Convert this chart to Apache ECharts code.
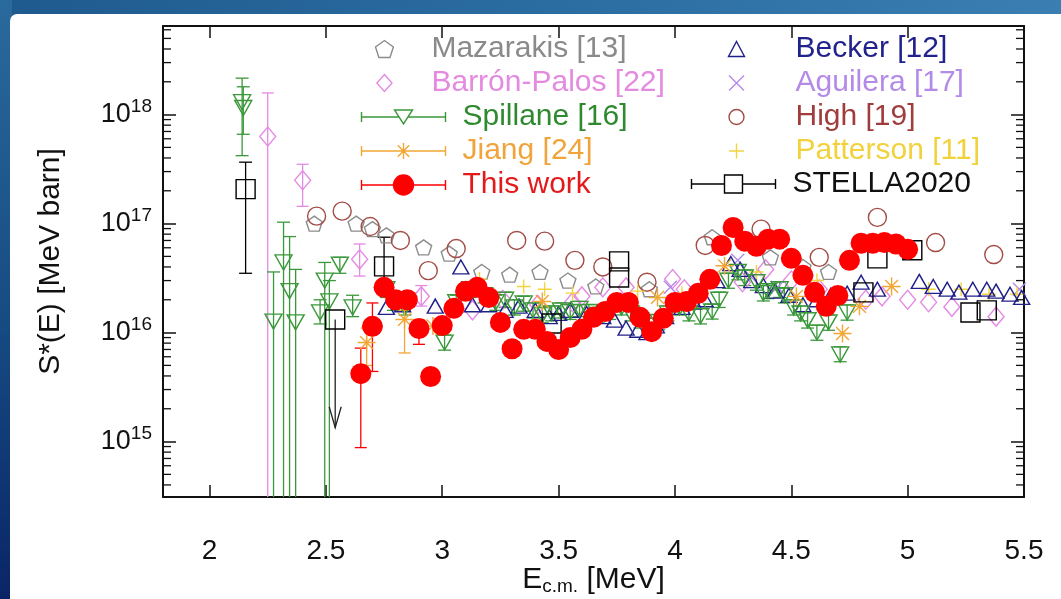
<!DOCTYPE html>
<html>
<head>
<meta charset="utf-8">
<script src="https://cdn.jsdelivr.net/npm/echarts@6/dist/echarts.min.js"></script>
<style>
html,body{margin:0;padding:0;width:1061px;height:599px;overflow:hidden;background:#fff}
#bgTop{position:absolute;left:0;top:0;width:1061px;height:16px;background:linear-gradient(90deg,#1f5a8e,#2b6ca0 50%,#3a7eb2)}
#bgLeft{position:absolute;left:0;top:0;width:12px;height:599px;background:linear-gradient(180deg,#2a6a9c,#164a82 55%,#0a2566)}
#white{position:absolute;left:10px;top:14px;right:0;bottom:0;background:#fff;border-top-left-radius:7px}
#chart{position:absolute;left:0;top:0;width:1061px;height:599px}
</style>
</head>
<body>
<div id="bgTop"></div><div id="bgLeft"></div><div id="white"></div>
<div id="chart"></div>
<script>
// ---------------- DATA ----------------
// This work (red filled circles)
const thisX  = [2.65,2.70,2.75,2.80,2.85,2.90,2.95,3.00,3.05,3.10,3.15,3.20,3.25,3.30,3.35,3.40,3.45,3.50,3.55,3.60,3.65,3.70,3.75,3.80,3.85,3.90,3.95,4.00,4.05,4.10,4.15,4.20,4.25,4.30,4.35,4.40,4.45,4.50,4.55,4.60,4.65,4.70,4.75,4.80,4.85,4.90,4.95,5.00];
const thisY  = [4.2e15,1.14e16,2.6e16,2.0e16,2.0e16,1.09e16,3.95e15,1.16e16,1.67e16,2.39e16,2.6e16,2.1e16,1.24e16,7.1e15,1.07e16,1.07e16,8.3e15,7.0e15,9.0e15,1.07e16,1.38e16,1.56e16,1.89e16,1.89e16,1.38e16,1.02e16,1.35e16,1.89e16,1.93e16,2.29e16,3.08e16,6.3e16,9.2e16,6.9e16,6.2e16,7.2e16,7.2e16,4.8e16,3.35e16,2.34e16,1.74e16,2.19e16,4.6e16,6.6e16,6.6e16,6.7e16,6.5e16,5.8e16];
const thisLo = [8.8e14,4.4e15,2.3e16,1.8e16,1.8e16,7.8e15,3.4e15,1.05e16,1.5e16,2.15e16,2.35e16,1.9e16,1.12e16,6.4e15,9.6e15,9.6e15,7.5e15,6.3e15,8.1e15,9.6e15,1.24e16,1.4e16,1.7e16,1.7e16,1.24e16,9.2e15,1.22e16,1.7e16,1.74e16,2.06e16,2.77e16,5.7e16,8.3e16,6.2e16,5.6e16,6.5e16,6.5e16,4.3e16,3.0e16,2.1e16,1.57e16,1.97e16,4.1e16,5.9e16,5.9e16,6.0e16,5.8e16,5.2e16];
const thisHi = [7.2e15,1.87e16,2.9e16,2.2e16,2.2e16,1.3e16,4.6e15,1.28e16,1.85e16,2.65e16,2.85e16,2.3e16,1.37e16,7.8e15,1.18e16,1.18e16,9.1e15,7.7e15,9.9e15,1.18e16,1.52e16,1.72e16,2.08e16,2.08e16,1.52e16,1.12e16,1.49e16,2.08e16,2.12e16,2.52e16,3.39e16,6.9e16,1.01e17,7.6e16,6.8e16,7.9e16,7.9e16,5.3e16,3.7e16,2.57e16,1.91e16,2.41e16,5.1e16,7.3e16,7.3e16,7.4e16,7.2e16,6.4e16];

// Spillane [16] (green down triangles)
const spX  = [2.140,2.145,2.275,2.318,2.344,2.370,2.495,2.475,2.515,2.560,2.615,2.76,2.79,2.84,3.01,3.06,3.12,3.18,3.23,3.27,3.31,3.35,3.39,3.43,3.47,3.51,3.55,3.59,3.63,3.67,3.72,3.77,3.81,3.85,3.89,3.93,3.97,4.02,4.06,4.11,4.16,4.19,4.23,4.27,4.30,4.35,4.38,4.40,4.45,4.47,4.51,4.54,4.57,4.61,4.66,4.71,4.74];
const spY  = [1.30e18,1.15e18,1.26e16,4.4e16,2.4e16,1.24e16,3.0e16,1.53e16,1.93e16,4.2e16,1.7e16,2.5e16,1.9e16,1.7e16,8.1e15,1.9e16,2.5e16,2.2e16,1.9e16,2.0e16,1.7e16,1.85e16,1.6e16,1.45e16,1.5e16,1.6e16,1.55e16,1.65e16,1.55e16,1.45e16,1.55e16,1.7e16,1.5e16,1.3e16,1.15e16,1.25e16,1.5e16,1.7e16,1.5e16,1.42e16,1.56e16,2.0e16,3.0e16,3.6e16,3.2e16,2.9e16,2.3e16,2.4e16,2.5e16,2.2e16,1.7e16,1.5e16,1.3e16,1.0e16,1.24e16,6.3e15,1.53e16];
const spLo = [4.2e17,6.6e17,1e13,1e13,1e13,1e13,1e13,1.2e16,1e13,3.5e16,1.4e16,2.1e16,1.6e16,1.45e16,6.9e15,1.6e16,2.1e16,1.87e16,1.6e16,1.7e16,1.45e16,1.57e16,1.36e16,1.23e16,1.28e16,1.36e16,1.32e16,1.4e16,1.32e16,1.23e16,1.32e16,1.45e16,1.28e16,1.1e16,9.8e15,1.06e16,1.28e16,1.45e16,1.28e16,1.2e16,1.33e16,1.7e16,2.55e16,3.05e16,2.7e16,2.45e16,1.95e16,2.05e16,2.1e16,1.87e16,1.45e16,1.28e16,1.1e16,8.5e15,1.05e16,5.4e15,1.3e16];
const spHi = [2.16e18,1.80e18,3.6e16,1.03e17,7.6e16,3.8e16,4.4e16,2.0e16,3.0e16,4.9e16,2.2e16,2.9e16,2.2e16,2.0e16,9.5e15,2.2e16,2.9e16,2.55e16,2.2e16,2.35e16,2.0e16,2.15e16,1.87e16,1.7e16,1.75e16,1.87e16,1.8e16,1.93e16,1.8e16,1.7e16,1.8e16,2.0e16,1.75e16,1.52e16,1.35e16,1.46e16,1.75e16,2.0e16,1.75e16,1.66e16,1.82e16,2.35e16,3.5e16,4.2e16,3.75e16,3.4e16,2.7e16,2.8e16,2.9e16,2.55e16,2.0e16,1.75e16,1.52e16,1.17e16,1.45e16,7.4e15,1.79e16];

// Becker [12] (navy triangles)
const beX = [2.76,2.83,2.97,3.08,3.13,3.20,3.27,3.33,3.40,3.46,3.50,3.55,3.62,3.69,3.74,3.79,3.84,3.88,3.92,3.96,4.03,4.08,4.13,4.18,4.24,4.28,4.33,4.38,4.43,4.49,4.55,4.61,4.67,4.74,4.80,4.87,5.05,5.11,5.17,5.22,5.28,5.34,5.38,5.44,5.49];
const beY = [1.7e16,1.8e16,1.75e16,4.0e16,1.8e16,1.8e16,1.6e16,1.75e16,1.6e16,1.4e16,1.5e16,1.6e16,1.5e16,1.4e16,1.3e16,1.1e16,1.05e16,1.0e16,1.15e16,1.4e16,1.7e16,1.9e16,2.0e16,3.0e16,4.3e16,3.8e16,3.0e16,2.7e16,2.4e16,2.2e16,1.8e16,2.0e16,2.2e16,2.3e16,2.9e16,2.5e16,2.95e16,2.65e16,2.5e16,2.35e16,2.5e16,2.5e16,2.4e16,2.25e16,2.1e16];

// Mazarakis [13] (grey pentagons)
const mzX = [2.45,2.63,2.70,2.76,2.92,3.03,3.17,3.29,3.42,3.54,3.66,3.89,4.16,4.41,4.55,4.66];
const mzY = [1.0e17,1.0e17,8.9e16,7.8e16,6.05e16,5.3e16,3.6e16,3.4e16,3.6e16,3.0e16,2.65e16,2.5e16,7.5e16,4.9e16,4.0e16,3.6e16];

// High [19] (brown open circles)
const hiX = [2.46,2.57,2.69,2.82,2.94,3.06,3.32,3.44,3.57,3.69,3.88,4.13,4.37,4.62,4.87,5.12,5.37];
const hiY = [1.17e17,1.3e17,9.4e16,7.0e16,3.7e16,5.9e16,7.0e16,6.9e16,4.6e16,4.0e16,2.9e16,6.3e16,8.9e16,4.9e16,1.14e17,6.7e16,5.2e16];

// Barrón-Palos [22] (violet diamonds)
const bpX  = [2.25,2.40,2.645,2.91,3.13,3.26,3.41,3.56,3.60,3.69,3.79,3.99,4.04,4.29,4.39,4.50,4.62,4.82,4.89,5.00,5.09,5.19,5.38];
const bpY  = [6.3e17,2.5e17,4.7e16,2.15e16,1.6e16,2.0e16,1.8e16,1.9e16,2.15e16,2.6e16,2.6e16,3.1e16,2.5e16,2.9e16,3.8e16,3.0e16,2.5e16,2.0e16,2.15e16,2.0e16,1.9e16,1.72e16,1.4e16];
const bpLo = [1e13,1.44e17,3.3e16,1.75e16];
const bpHi = [1.58e18,3.5e17,6.5e16,2.7e16];

// Aguilera [17] (lavender crosses)
const agX = [3.98,4.27,4.33,4.44,5.48];
const agY = [2.6e16,4.6e16,3.2e16,2.6e16,2.5e16];

// Patterson [11] (yellow plus)
const ptX = [3.16,3.35,3.44,3.56,3.84,4.03,4.35,4.61,5.09,5.23,5.35,5.47];
const ptY = [3.1e16,2.65e16,2.5e16,2.3e16,2.4e16,2.3e16,3.6e16,3.0e16,2.5e16,2.5e16,2.25e16,2.25e16];

// Jiang [24] (orange asterisks)
const jiX  = [2.675,2.838,2.96,3.43,3.925,4.213,4.522,4.72,4.793,4.931];
const jiY  = [8.1e15,1.32e16,1.15e16,1.93e16,2.1e16,4.1e16,2.15e16,9.8e15,1.74e16,2.65e16];
const jiLo = [5.0e15,6.5e15];
const jiHi = [1.1e16,1.6e16];

// STELLA2020 (black open squares)
const stX  = [2.155,2.75,2.54,3.47,3.76,3.76,4.81,4.87,5.02,5.27,5.34];
const stY  = [2.07e17,4.05e16,1.32e16,1.21e16,4.5e16,3.2e16,2.34e16,4.8e16,5.7e16,1.53e16,1.6e16];
const stLo = [3.5e16,3.0e16];
const stHi = [3.66e17,7.5e16];
// STELLA2020 upper limit (arrow)
const stLimX = [2.54], stLimFrom = [1.32e16], stLimTo = [1.34e15];

// axis
const xMin = 1.8, xMax = 5.5, yMin = 3.1e14, yMax = 6.5e18;
const minorMantissas = [2,3,4,5,6,7,8,9];
const decades = [14,15,16,17,18];

// ---------------- STYLE ----------------
const FONT = "'Liberation Sans', Arial, Helvetica, sans-serif";
const C = {
  maz:'#8c8c8c', bp:'#e48ae4', sp:'#3a983a', ji:'#f2a634', tw:'#ff0000',
  be:'#202088', ag:'#b48ae8', hi:'#a24c46', pt:'#f4d43c', st:'#000000'
};
const CT = {
  maz:'#8a8a8a', bp:'#e48ae0', sp:'#2f8a2f', ji:'#f0a43a', tw:'#e41a1a',
  be:'#22228c', ag:'#b48ae8', hi:'#a03c3c', pt:'#f2d23c', st:'#111111'
};
const PENT = 'path://M10,0L19.51,6.91L15.88,18.09L4.12,18.09L0.49,6.91Z';
const XMARK = 'path://M0,0L14,14M14,0L0,14';
const PLUS = 'path://M7,0L7,14M0,7L14,7';
const STAR = 'path://M0,8L16,8M8,0L8,16M2.3,2.3L13.7,13.7M2.3,13.7L13.7,2.3';

function pts(xs, ys){ return xs.map((x,i)=>[x, ys[i]]); }
function bars(xs, lo, hi){ const d=[]; xs.forEach((x,i)=>{ if(lo[i]!=null && hi[i]!=null) d.push([x, lo[i], hi[i]]); }); return d; }

function scat(name, xs, ys, symbol, size, color, filled, rotate){
  return { type:'scatter', name, data: pts(xs, ys), symbol, symbolSize:size, symbolRotate: rotate||0,
    z:2, silent:true, clip:true, emphasis:{disabled:true},
    itemStyle: filled ? {color, borderWidth:0, opacity:1} : {color:'none', borderColor:color, borderWidth:1.4, opacity:1} };
}
function ebar(name, data, color, cap){
  return { type:'custom', name, data, z:2, clip:true, silent:true,
    renderItem(params, api){
      const x = api.value(0);
      const a = api.coord([x, api.value(1)]), b = api.coord([x, api.value(2)]);
      const h = cap/2, style = {stroke:color, lineWidth:1.3, fill:null};
      return {type:'group', children:[
        {type:'line', shape:{x1:a[0],y1:a[1],x2:b[0],y2:b[1]}, style},
        {type:'line', shape:{x1:a[0]-h,y1:a[1],x2:a[0]+h,y2:a[1]}, style},
        {type:'line', shape:{x1:b[0]-h,y1:b[1],x2:b[0]+h,y2:b[1]}, style}
      ]};
    }};
}

const minorVals = [];
decades.forEach(e => minorMantissas.forEach(m => { const v = m*Math.pow(10,e); if (v>yMin && v<yMax) minorVals.push([xMin, v]); }));

const series = [
  ebar('Barrón-Palos err', bars(bpX, bpLo, bpHi), C.bp, 12),
  scat('Barrón-Palos [22]', bpX, bpY, 'diamond', [16,19], C.bp, false),
  scat('Mazarakis [13]', mzX, mzY, PENT, [16,15], C.maz, false),
  scat('High [19]', hiX, hiY, 'circle', 18, C.hi, false),
  scat('Aguilera [17]', agX, agY, XMARK, 13, C.ag, false),
  scat('Patterson [11]', ptX, ptY, PLUS, 14, C.pt, false),
  scat('Becker [12]', beX, beY, 'triangle', [16,14], C.be, false),
  ebar('Spillane err', bars(spX, spLo, spHi), C.sp, 13),
  scat('Spillane [16]', spX, spY, 'triangle', [17,15], C.sp, false, 180),
  ebar('Jiang err', bars(jiX, jiLo, jiHi), C.ji, 12),
  scat('Jiang [24]', jiX, jiY, STAR, 18, C.ji, false),
  ebar('STELLA err', bars(stX, stLo, stHi), C.st, 13),
  { type:'custom', name:'STELLA limit', z:2, silent:true, clip:true,
    data: stLimX.map((x,i)=>[x, stLimFrom[i], stLimTo[i]]),
    renderItem(params, api){
      const a = api.coord([api.value(0), api.value(1)]), b = api.coord([api.value(0), api.value(2)]);
      const style = {stroke:'#222', lineWidth:1.3, fill:null};
      return {type:'group', children:[
        {type:'line', shape:{x1:a[0],y1:a[1],x2:b[0],y2:b[1]}, style},
        {type:'polyline', shape:{points:[[b[0]-6,b[1]-21],[b[0],b[1]],[b[0]+6,b[1]-21]]}, style}
      ]};
    }},
  scat('STELLA2020', stX, stY, 'rect', 19, C.st, false),
  ebar('This work err', bars(thisX, thisLo, thisHi), C.tw, 12),
  scat('This work', thisX, thisY, 'circle', 21, C.tw, true),
  { type:'custom', name:'minor ticks', z:3, silent:true, clip:false, data:minorVals,
    renderItem(params, api){
      const v = api.value(1);
      const l = api.coord([xMin, v]), r = api.coord([xMax, v]);
      const style = {stroke:'#111', lineWidth:1.3, fill:null};
      return {type:'group', children:[
        {type:'line', shape:{x1:l[0],y1:l[1],x2:l[0]+8,y2:l[1]}, style},
        {type:'line', shape:{x1:r[0]-8,y1:r[1],x2:r[0],y2:r[1]}, style}
      ]};
    }}
];

const legText = {fontFamily:FONT, fontSize:30, lineHeight:34};
function li(name, icon, key, filled){
  return {name, icon,
    itemStyle: filled ? {color:C[key], borderColor:C[key], borderWidth:1.4} : {color:'none', borderColor:C[key], borderWidth:1.4},
    textStyle:{color:CT[key]}};
}
const legBase = {orient:'vertical', padding:0, itemGap:0, selectedMode:false, z:5, itemWidth:84};

const option = {
  animation:false,
  grid:{left:163, right:37, top:26, bottom:102, containLabel:false, outerBoundsMode:'none'},
  xAxis:[
    {type:'value', min:xMin, max:xMax, splitNumber:8, position:'bottom',
     axisLine:{onZero:false, lineStyle:{color:'#111', width:2}},
     axisTick:{inside:true, length:12, lineStyle:{color:'#111', width:1.5}},
     axisLabel:{showMinLabel:false, margin:40, fontSize:28, fontFamily:FONT, color:'#111'},
     splitLine:{show:false},
     name:'{a|E}{b|c.m.}{a| [MeV]}', nameLocation:'middle', nameGap:67, nameMoveOverlap:false,
     nameTextStyle:{rich:{a:{fontSize:30, fontFamily:FONT, color:'#111', lineHeight:32},
                          b:{fontSize:19, fontFamily:FONT, color:'#111', lineHeight:16, verticalAlign:'bottom'}}}},
    {type:'value', min:xMin, max:xMax, splitNumber:8, position:'top',
     axisLine:{onZero:false, lineStyle:{color:'#111', width:2}},
     axisTick:{inside:true, length:12, lineStyle:{color:'#111', width:1.5}},
     axisLabel:{show:false}, splitLine:{show:false}}
  ],
  yAxis:[
    {type:'log', logBase:10, min:yMin, max:yMax, position:'left',
     axisLine:{lineStyle:{color:'#111', width:2}},
     axisTick:{inside:true, length:13, lineStyle:{color:'#111', width:1.5}},
     axisLabel:{showMinLabel:false, showMaxLabel:false, margin:11,
       formatter:(v)=>'{b|10}{s|' + Math.round(Math.log10(v)) + '}',
       rich:{b:{fontSize:27, fontFamily:FONT, color:'#111', lineHeight:34},
             s:{fontSize:19, fontFamily:FONT, color:'#111', lineHeight:14, verticalAlign:'top'}}},
     splitLine:{show:false},
     name:'S*(E) [MeV barn]', nameLocation:'middle', nameGap:97, nameMoveOverlap:false,
     nameTextStyle:{fontSize:30, fontFamily:FONT, color:'#111'}},
    {type:'log', logBase:10, min:yMin, max:yMax, position:'right',
     axisLine:{lineStyle:{color:'#111', width:2}},
     axisTick:{inside:true, length:13, lineStyle:{color:'#111', width:1.5}},
     axisLabel:{show:false}, splitLine:{show:false}}
  ],
  legend:[
    Object.assign({}, legBase, {left:373, top:32, itemHeight:17, textStyle:legText,
      data:[li('Mazarakis [13]', PENT, 'maz'), li('Barrón-Palos [22]', 'path://M8,0L16,9L8,18L0,9Z', 'bp')]}),
    Object.assign({}, legBase, {left:359, top:100, itemHeight:20, textStyle:Object.assign({padding:[0,0,0,12]}, legText),
      data:[li('Spillane [16]', 'path://M0,5L0,15M84,5L84,15M0,10L38.1,10M45.9,10L84,10M33,3L51,3L42,17Z', 'sp'),
            li('Jiang [24]', 'path://M0,5L0,15M84,5L84,15M0,10L84,10M42,2L42,18M34,10L50,10M36.3,4.3L47.7,15.7M36.3,15.7L47.7,4.3', 'ji'),
            li('This work', 'path://M0,5L0,15M84,5L84,15M0,10L84,10M52,10A10,10,0,1,1,32,10A10,10,0,1,1,52,10Z', 'tw', true)]}),
    Object.assign({}, legBase, {left:726, top:32, itemHeight:15, textStyle:Object.assign({padding:[0,0,0,12]}, legText),
      data:[li('Becker [12]', 'path://M8,0L16,15L0,15Z', 'be'),
            li('Aguilera [17]', XMARK, 'ag'),
            li('High [19]', 'path://M16,8A8,8,0,1,1,0,8A8,8,0,1,1,16,8Z', 'hi'),
            li('Patterson [11]', PLUS, 'pt')]}),
    Object.assign({}, legBase, {left:689, top:167, itemHeight:20, textStyle:Object.assign({padding:[0,0,0,12]}, legText),
      data:[li('STELLA2020', 'path://M0,5L0,15M84,5L84,15M0,10L33,10M51,10L84,10M33,1L51,1L51,19L33,19Z', 'st')]})
  ],
  series
};
const chart = echarts.init(document.getElementById('chart'), null, {renderer:'canvas'});
chart.setOption(option);
</script>
</body>
</html>
